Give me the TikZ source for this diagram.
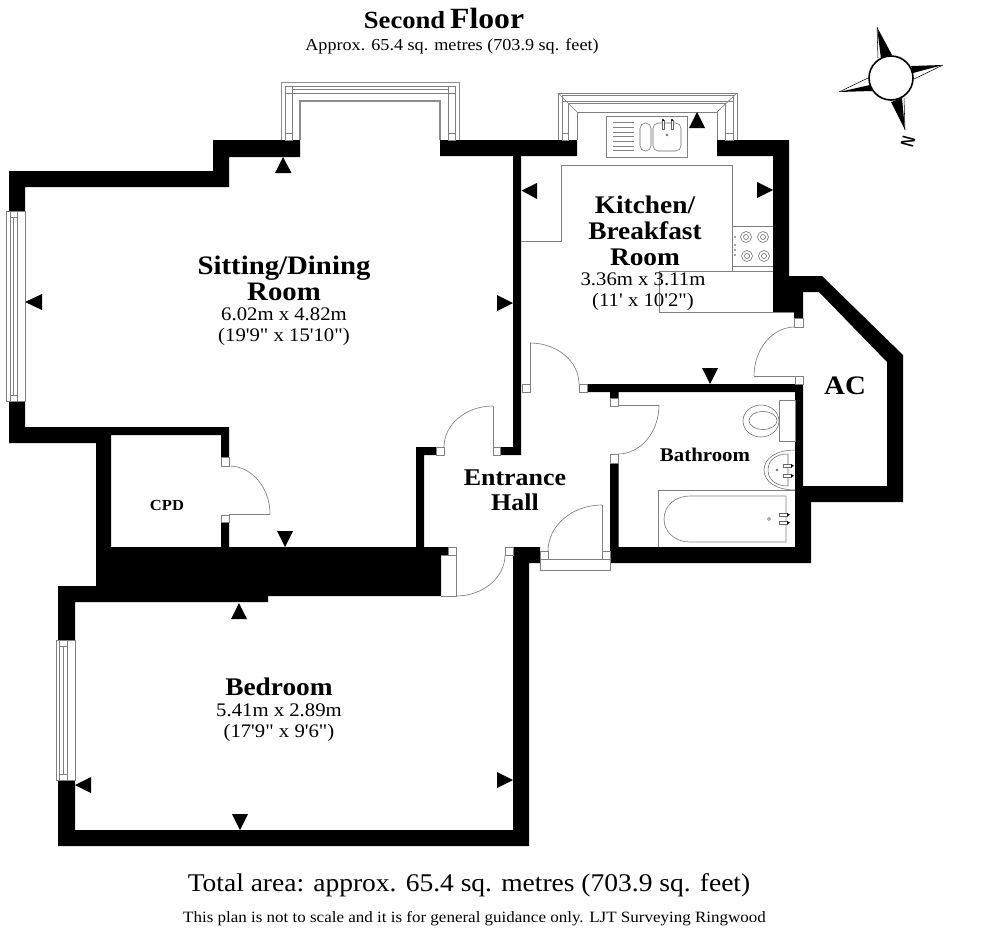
\documentclass[tikz,border=0pt]{standalone}
\usepackage{graphicx}
\usepackage{fontspec}
\usetikzlibrary{calc}
\setmainfont[FakeStretch=1.08,Ligatures=TeXOff]{Liberation Serif}
\tikzset{
  wall/.style={fill=black,draw=none},
  hairline/.style={draw=black!50,line width=0.5pt},
  fine/.style={draw=black!60,line width=0.4pt},
  jamb/.style={draw=black!50,line width=0.5pt,fill=white},
  viewmark/.style={fill=black,draw=none},
  roomname/.style={font=\fontsize{20}{19.5}\selectfont\bfseries,inner sep=0pt,align=center},
  dims/.style={font=\fontsize{14.4}{15.7}\selectfont,inner sep=0pt,align=center},
}
\newcommand{\dooreq}[3]{\draw[hairline] (#1) .. controls ($(#1)!0.552!(#2)$) and ($(#3)!0.552!(#2)$) .. (#3);}
\newcommand{\jmb}[2]{\draw[jamb] (#1) rectangle (#2);}
\begin{document}
\begin{tikzpicture}[x=0.75pt,y=-0.75pt]
\useasboundingbox (0,0) rectangle (985,928);
\fill[white] (0,0) rectangle (985,928);

% walls
\path[wall] (9,171)--(213,171)--(213,140)--(300,140)--(300,157)--(229,157)--(229,187)--(25,187)--(25,211)--(9,211)--cycle;
\path[wall] (9,401)--(25,401)--(25,427)--(229,427)--(229,457)--(221,457)--(221,435)--(111,435)--(111,547)--(221,547)--(221,522)--(229,522)--(229,547)--(416,547)--(416,447)--(436,447)--(436,455)--(424,455)--(424,547)--(448,547)--(448,555)--(441,555)--(441,596)--(268,596)--(268,602)--(75,602)--(75,640)--(58,640)--(58,586)--(96,586)--(96,443)--(9,443)--cycle;
\path[wall] (513,547)--(540,547)--(540,563)--(529,563)--(529,846)--(58,846)--(58,780)--(75,780)--(75,830)--(513,830)--cycle;
\path[wall] (440,140)--(577,140)--(577,156)--(521,156)--(521,455)--(500,455)--(500,447)--(513,447)--(513,156)--(440,156)--cycle;
\path[wall] (717,140)--(789,140)--(789,276)--(822,276)--(903,355)--(903,502)--(811,502)--(811,563)--(610,563)--(610,463)--(618.5,463)--(618.5,547)--(795,547)--(795,392)--(618.5,392)--(618.5,398)--(610,398)--(610,392)--(587,392)--(587,384)--(803,384)--(803,486)--(887,486)--(887,362)--(819,292)--(803,292)--(803,318)--(794,318)--(794,312)--(773,312)--(773,156)--(717,156)--cycle;

% jambs
\jmb{221,457}{229,466}\jmb{221,515}{229,522}
\jmb{436,447}{444,455}\jmb{493,447}{500,455}
\jmb{448,547}{456,555}\jmb{505,547}{513,555}
\jmb{540,551}{548,559}\jmb{602,551}{610,559}
\jmb{522,384}{530,392}\jmb{579,384}{587,392}
\jmb{610,398}{618,406}\jmb{610,454}{618,463}
\jmb{794,318}{803,327}\jmb{795,376}{803,384}

% doors
\draw[hairline] (229,514)--(270,514); \dooreq{270,514}{270,466}{229,466}
\draw[hairline] (493,447)--(493,406); \dooreq{493,406}{444,406}{444,447}
\draw[hairline] (441,555)--(448,555) (456,555)--(456,596)--(441,596); \dooreq{456,596}{505,596}{505,555}
\draw[hairline] (602,551)--(602,505); \dooreq{602,505}{548,505}{548,551}
\draw[hairline] (530,384)--(530,343); \dooreq{530,343}{579,343}{579,384}
\draw[hairline] (618,405)--(659,405); \dooreq{659,405}{659,454}{618,454}
\draw[hairline] (803,376)--(754,376); \dooreq{754,376}{754,327}{795,327}
\draw[hairline] (540,559)--(610,559)--(610,570)--(540,570)--cycle;

% sitting bay window
\draw[hairline,draw=black!45,line width=0.7pt] (281,140)--(281,82)--(459,82)--(459,140);
\draw[hairline] (285.5,140)--(285.5,86)--(455,86)--(455,140);
\draw[hairline] (292.5,140)--(292.5,93.5)--(448,93.5)--(448,140);
\draw[hairline] (292.5,89)--(448,89);
\draw[hairline,draw=black!45,line width=0.8pt] (300,140)--(300,101)--(440,101)--(440,140);
\draw[jamb] (285.5,86) rectangle (292.5,93);
\draw[jamb] (448,86) rectangle (455,93);
\draw[jamb] (285.5,133) rectangle (292.5,140);
\draw[jamb] (448,133) rectangle (455,140);

% kitchen bay window
\draw[hairline,line width=0.7pt] (558,140)--(558,93)--(737,93)--(737,140);
\draw[hairline] (562,140)--(562,95.5)--(733,95.5)--(733,140);
\draw[hairline] (568,140)--(568,103)--(725,103)--(725,140);
\draw[hairline] (562,101)--(733,101);
\draw[hairline,line width=0.7pt] (577,140)--(577,112)--(717,112)--(717,140);
\draw[hairline] (558,93)--(577,112) (737,93)--(717,112);
\draw[jamb] (562,133) rectangle (568,140);
\draw[jamb] (725,133) rectangle (733,140);

% left windows
\draw[hairline,line width=0.7pt] (6,211) rectangle (25,401);
\draw[hairline] (10,211)--(10,401) (17,211)--(17,401) (13.5,217)--(13.5,395);
\draw[hairline] (10,217)--(17,217) (10,395)--(17,395);
\draw[hairline,line width=0.7pt] (56,640) rectangle (75,780);
\draw[hairline] (59.5,640)--(59.5,780) (67,640)--(67,780) (63.3,646)--(63.3,774);
\draw[hairline] (59.5,646)--(67,646) (59.5,774)--(67,774);

% kitchen fittings
\draw[hairline] (521,241)--(561,241)--(561,165)--(732,165)--(732,271);
\draw[hairline] (773,271)--(659,271)--(659,312)--(794,312);
\draw[hairline] (732,226)--(773,226) (732,266)--(773,266);
\foreach \cx/\cy in {746/237,763/237,747/256,764/256}{
  \draw[fine] (\cx,\cy) circle[radius=5.5] (\cx,\cy) circle[radius=2.5];}
\foreach \cy in {237,245,250,255}{\fill[black!70] (735,\cy) circle[radius=0.8];}
\draw[hairline] (606,116) rectangle (687,157);
\foreach \ly in {122.7,127.4,132,136.7,141.4,146,150.7}{\draw[hairline] (613,\ly)--(634,\ly);}
\draw[fine,rounded corners=4pt] (640,123) rectangle (651,151);
\draw[fine,rounded corners=4pt] (653,123) rectangle (681,151);
\draw[fine,fill=white] (662,120) rectangle (664,129);
\draw[fine,fill=white] (671,120) rectangle (673,129);
\fill[black] (663,120) circle[radius=1.2] (672,120) circle[radius=1.2];
\draw[fine] (667,135) circle[radius=1];

% bathroom fittings
\draw[fine] (761,421) ellipse[x radius=18,y radius=16];
\draw[fine,fill=white] (763,420.5) ellipse[x radius=14,y radius=9];
\draw[hairline,fill=white] (779,400) rectangle (795,441);
\draw[fine] (795,450) .. controls (777,450) and (764,458) .. (764,470) .. controls (764,482) and (777,490) .. (795,490);
\draw[fine] (788,454) .. controls (776,454) and (768,460) .. (768,470) .. controls (768,480) and (776,486) .. (788,486)--(788,454);
\draw[fine,fill=white] (783,464.5) rectangle (791,467);
\draw[fine,fill=white] (783,474.5) rectangle (791,477);
\fill[black] (791,464) -- (794,465.7) -- (791,467.5) -- cycle (791,474) -- (794,475.7) -- (791,477.5) -- cycle;
\draw[fine] (777,470) circle[radius=1];
\draw[hairline] (658,547)--(658,490)--(795,490);
\draw[hairline] (786,496)--(690,496) .. controls (675,496) and (664,506) .. (664,519) .. controls (664,532) and (675,542) .. (690,542)--(786,542)--cycle;
\draw[fine,fill=white] (779,513.5) rectangle (787,516);
\draw[fine,fill=white] (779,521.5) rectangle (787,524);
\fill[black] (787,513) -- (790,514.7) -- (787,516.5) -- cycle (787,521) -- (790,522.7) -- (787,524.5) -- cycle;
\draw[fine] (769,519) circle[radius=1.6];

% view markers
\path[viewmark] (283,157)--(291.5,173)--(275,173)--cycle;
\path[viewmark] (697,112)--(705,128)--(689,128)--cycle;
\path[viewmark] (521.5,190.5)--(537,183)--(537,199)--cycle;
\path[viewmark] (773,190)--(757,182)--(757,198)--cycle;
\path[viewmark] (710,384)--(702,368)--(718,368)--cycle;
\path[viewmark] (25,302)--(42,294)--(42,310)--cycle;
\path[viewmark] (513,303)--(497,295)--(497,311)--cycle;
\path[viewmark] (285,547)--(277,531)--(293,531)--cycle;
\path[viewmark] (239,603)--(247,619)--(231,619)--cycle;
\path[viewmark] (75,785)--(91,777)--(91,793)--cycle;
\path[viewmark] (513,780)--(497,772)--(497,788)--cycle;
\path[viewmark] (240,830)--(232,814)--(248,814)--cycle;

% compass
\coordinate (cc) at (891,78);
\path[viewmark] (877,27)--(892,55)--(881,59)--cycle;
\draw[black,line width=0.4pt] (877,27)--(878,58);
\path[viewmark] (943,65)--(911,66)--(913,73)--cycle;
\draw[black,line width=0.4pt] (943,65)--(914,79);
\path[viewmark] (905,130)--(891,102)--(902,98)--cycle;
\draw[black,line width=0.4pt] (905,130)--(904,98);
\path[viewmark] (839,92)--(870,85)--(872,91)--cycle;
\draw[black,line width=0.4pt] (839,92)--(868,78);
\draw[draw=black,fill=white,line width=1.2pt] (cc) circle[radius=22];
\node[inner sep=0pt,rotate=75,font=\fontsize{14}{14}\selectfont\bfseries\sffamily] (north) at (908,142) {\scalebox{0.72}[1]{N}};

% texts
\node[inner sep=0pt,font=\bfseries] (title) at (444,18) {\fontsize{18.5}{18}\selectfont Second\hspace{0.2em}\fontsize{22}{18}\selectfont Floor};
\node[inner sep=0pt,font=\fontsize{12.6}{12.6}\selectfont] (subtitle) at (452,46) {Approx. 65.4 sq. metres (703.9 sq. feet)};
\node[roomname] (sitname) at (284,278) {Sitting/Dining\\Room};
\node[dims] (sitdim) at (284,327) {6.02m x 4.82m\\(19'9" x 15'10")};
\node[roomname,font=\fontsize{19}{19.5}\selectfont\bfseries] (kitname) at (645,231) {Kitchen/\\Breakfast\\Room};
\node[dims] (kitdim) at (643,292) {3.36m x 3.11m\\(11' x 10'2")};
\node[roomname] (acname) at (845,386) {AC};
\node[roomname,font=\fontsize{14.5}{14.5}\selectfont\bfseries] (bathname) at (705,455) {Bathroom};
\node[roomname,font=\fontsize{11.5}{11.5}\selectfont\bfseries] (cpdname) at (167,505) {CPD};
\node[roomname,font=\fontsize{18}{19}\selectfont\bfseries] (hallname) at (515,490.5) {Entrance\\Hall};
\node[roomname,font=\fontsize{19}{19}\selectfont\bfseries] (bedname) at (279,687) {Bedroom};
\node[dims] (beddim) at (279,723) {5.41m x 2.89m\\(17'9" x 9'6")};
\node[inner sep=0pt,font=\fontsize{19.1}{19.1}\selectfont] (total) at (469,885) {Total area: approx. 65.4 sq. metres (703.9 sq. feet)};
\node[inner sep=0pt,font=\fontsize{11.8}{11.8}\selectfont] (note) at (474.5,919) {This plan is not to scale and it is for general guidance only. LJT Surveying Ringwood};
\end{tikzpicture}
\end{document}
